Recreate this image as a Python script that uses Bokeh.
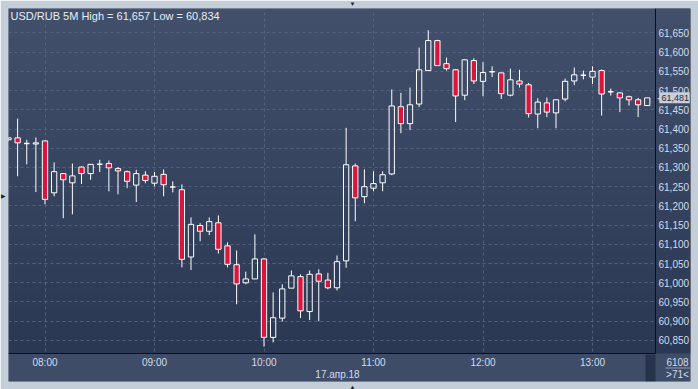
import numpy as np
import pandas as pd
from bokeh.plotting import figure
from bokeh.models import (Range1d, FixedTicker, CustomJSTickFormatter, DatetimeTickFormatter,
                          Label, ColumnDataSource, DatetimeAxis, LinearAxis, Grid)
from bokeh.embed import file_html
from bokeh.resources import INLINE

# ---------------- data ----------------
title_text = "USD/RUB 5M High = 61,657 Low = 60,834"
session_date = "2018-04-17"
first_bar = "07:40"
bar_minutes = 5

opens = [61.372, 61.377, 61.362, 61.361, 61.369, 61.234, 61.284, 61.260, 61.301, 61.284,
         61.308, 61.310, 61.297, 61.289, 61.254, 61.280, 61.259, 61.282, 61.249, 61.242,
         61.067, 61.149, 61.134, 61.156, 61.096, 61.047, 61.000, 61.010, 61.062, 60.858,
         60.908, 60.986, 61.016, 60.925, 61.023, 61.007, 60.987, 61.057, 61.304, 61.224,
         61.246, 61.260, 61.283, 61.458, 61.414, 61.465, 61.552, 61.630, 61.570, 61.554,
         61.488, 61.578, 61.524, 61.549, 61.546, 61.488, 61.525, 61.515, 61.439, 61.468,
         61.442, 61.478, 61.525, 61.540, 61.535, 61.552, 61.497, 61.494, 61.484, 61.476,
         61.461]
highs = [61.379, 61.427, 61.372, 61.378, 61.370, 61.313, 61.285, 61.310, 61.303, 61.309,
         61.320, 61.318, 61.301, 61.292, 61.294, 61.290, 61.288, 61.295, 61.264, 61.256,
         61.170, 61.155, 61.170, 61.175, 61.105, 61.084, 61.029, 61.126, 61.064, 60.975,
         60.996, 61.032, 61.022, 61.032, 61.035, 61.026, 61.071, 61.403, 61.310, 61.295,
         61.290, 61.290, 61.503, 61.494, 61.508, 61.612, 61.657, 61.632, 61.586, 61.556,
         61.581, 61.584, 61.574, 61.563, 61.547, 61.557, 61.554, 61.520, 61.480, 61.482,
         61.477, 61.531, 61.560, 61.552, 61.563, 61.555, 61.505, 61.495, 61.487, 61.481,
         61.481]
lows = [61.368, 61.277, 61.308, 61.236, 61.204, 61.225, 61.168, 61.178, 61.257, 61.268,
        61.288, 61.238, 61.230, 61.246, 61.210, 61.259, 61.251, 61.225, 61.235, 61.040,
        61.033, 61.108, 61.124, 61.076, 61.040, 60.944, 60.996, 61.010, 60.834, 60.845,
        60.899, 60.986, 60.908, 60.903, 60.900, 60.983, 60.980, 61.039, 61.160, 61.207,
        61.238, 61.238, 61.280, 61.389, 61.397, 61.457, 61.551, 61.564, 61.552, 61.418,
        61.475, 61.517, 61.485, 61.535, 61.478, 61.485, 61.508, 61.430, 61.402, 61.431,
        61.402, 61.472, 61.514, 61.529, 61.517, 61.435, 61.487, 61.444, 61.461, 61.431,
        61.461]
closes = [61.377, 61.364, 61.362, 61.364, 61.217, 61.289, 61.268, 61.278, 61.284, 61.308,
          61.308, 61.299, 61.291, 61.264, 61.284, 61.266, 61.277, 61.255, 61.249, 61.061,
          61.152, 61.134, 61.159, 61.087, 61.048, 60.997, 61.010, 61.062, 60.858, 60.909,
          60.984, 61.018, 60.927, 61.022, 61.004, 60.987, 61.055, 61.307, 61.221, 61.250,
          61.258, 61.281, 61.460, 61.414, 61.463, 61.554, 61.630, 61.565, 61.557, 61.486,
          61.580, 61.525, 61.547, 61.549, 61.492, 61.528, 61.517, 61.440, 61.470, 61.444,
          61.476, 61.524, 61.541, 61.540, 61.550, 61.491, 61.497, 61.481, 61.476, 61.463,
          61.481]

y_ticks = [60.85, 60.90, 60.95, 61.00, 61.05, 61.10, 61.15, 61.20, 61.25,
           61.30, 61.35, 61.40, 61.45, 61.50, 61.55, 61.60, 61.65]
hour_labels = ["08:00", "09:00", "10:00", "11:00", "12:00", "13:00"]
date_label = "17.апр.18"
last_price = 61.481
last_price_label = "61,481"
counter_label = "6108"
bars_label = ">71<"

# ---------------- layout / styles ----------------
FONT = "Liberation Sans"
RED = "#dc143c"
BORDER = "#c4ced9"
STRIP = "#3e4c67"
GRID = "#5b6a86"
TXT = "#d2dcee"
TRI = "#1c2435"
TAG = "#c9ced8"
AXLINE = "#0b0f18"

W, H = 698, 389
FR_L, FR_R, FR_T, FR_B = 8, 690, 8, 381      # dark window (plot frame)
CH_R, CH_B = 655, 353                        # price-chart area inside it
BAR_PX = 9.125                               # pixels per bar
PX_PER_UNIT = 384.4                          # pixels per 1 rouble
PRICE_TOP = 61.7135                          # price at the top edge

# ---------------- derived ----------------
times = pd.date_range(f"{session_date} {first_bar}", periods=len(opens), freq=f"{bar_minutes}min")
t_ms = (times.astype("int64") // 10**6).to_numpy().astype(float)
o = np.array(opens); h = np.array(highs); l = np.array(lows); c = np.array(closes)
top = np.maximum(o, c); bot = np.minimum(o, c)
doji = o == c
bear = c < o

bar_ms = bar_minutes * 60 * 1000
t0 = t_ms[0]

def px_x(px):
    return t0 + (px - FR_L) * bar_ms / BAR_PX

def px_y(py):
    return PRICE_TOP - (py - FR_T) / PX_PER_UNIT

def to_ms(s):
    return float(pd.Timestamp(f"{session_date} {s}").value // 10**6)

hour_ms = [to_ms(s) for s in hour_labels]
bar_w = bar_ms * 0.58
chart_x_end = px_x(CH_R)
chart_y_bot = px_y(CH_B)

p = figure(width=W, height=H, output_backend="svg", toolbar_location=None,
           x_range=Range1d(px_x(FR_L), px_x(FR_R)), y_range=Range1d(px_y(FR_B), px_y(FR_T)),
           x_axis_location=None, y_axis_location=None,
           min_border_left=FR_L, min_border_right=W - FR_R,
           min_border_top=FR_T, min_border_bottom=H - FR_B)
p.border_fill_color = BORDER
p.outline_line_color = None
p.background_fill_color = "#36445f"
p.grid.visible = False

def gradient(n=128):
    img = np.empty((n, 1), dtype=np.uint32)
    view = img.view(dtype=np.uint8).reshape((n, 1, 4))
    top_rgb = np.array([0x42, 0x50, 0x6b]); bot_rgb = np.array([0x2b, 0x38, 0x53])
    for i in range(n):
        f = i / (n - 1)
        view[i, 0, 0:3] = (bot_rgb + (top_rgb - bot_rgb) * f).astype(np.uint8)
        view[i, 0, 3] = 255
    return img

ytop = px_y(FR_T)
p.image_rgba(image=[gradient()], x=px_x(FR_L), y=chart_y_bot, dw=px_x(FR_R) - px_x(FR_L),
             dh=ytop - chart_y_bot, level="image")

# grids (only the chart part stays visible: panels are painted over them)
p.add_layout(Grid(dimension=0, ticker=FixedTicker(ticks=hour_ms), grid_line_color=GRID,
                  grid_line_dash="3 3", grid_line_alpha=0.8))
p.add_layout(Grid(dimension=1, ticker=FixedTicker(ticks=y_ticks), grid_line_color=GRID,
                  grid_line_dash="3 3", grid_line_alpha=0.8))

# right price-scale panel (same gradient) and bottom time strip
p.image_rgba(image=[gradient()], x=chart_x_end, y=chart_y_bot, dw=px_x(FR_R) - chart_x_end,
             dh=ytop - chart_y_bot)
p.quad(left=px_x(FR_L), right=px_x(FR_R), bottom=px_y(FR_B), top=chart_y_bot,
       fill_color=STRIP, line_color=None)
p.quad(left=px_x(645), right=chart_x_end, bottom=px_y(FR_B), top=px_y(354),
       fill_color="#27324b", line_color=None)
p.quad(left=px_x(665), right=px_x(FR_R), bottom=px_y(368), top=px_y(367),
       fill_color="#8d9cb8", line_color=None)

# candles
src = ColumnDataSource(dict(t=t_ms, h=h, l=l, top=top, bot=bot))
p.segment(x0="t", y0="h", x1="t", y1="top", source=src, line_color="white", line_width=1)
p.segment(x0="t", y0="bot", x1="t", y1="l", source=src, line_color="white", line_width=1)
body_idx = np.where(~doji)[0]
bsrc = ColumnDataSource(dict(t=t_ms[body_idx], top=top[body_idx], bot=bot[body_idx],
                             fill=[RED if bear[i] else "#000000" for i in body_idx],
                             alpha=[1.0 if bear[i] else 0.0 for i in body_idx]))
p.vbar(x="t", width=bar_w, top="top", bottom="bot", source=bsrc, fill_color="fill",
       fill_alpha="alpha", line_color="white", line_width=1)
d_idx = np.where(doji)[0]
p.segment(x0=t_ms[d_idx] - bar_w / 2, x1=t_ms[d_idx] + bar_w / 2, y0=o[d_idx], y1=o[d_idx],
          line_color="white", line_width=1.5)

# axes drawn at fixed places inside the dark window
def style(ax, size="10px"):
    ax.major_tick_in = 0; ax.major_tick_out = 0; ax.minor_tick_in = 0; ax.minor_tick_out = 0
    ax.major_label_text_color = TXT
    ax.major_label_text_font = FONT
    ax.major_label_text_font_size = size

ya = LinearAxis(fixed_location=chart_x_end, bounds=(chart_y_bot, ytop),
                ticker=FixedTicker(ticks=y_ticks),
                formatter=CustomJSTickFormatter(code="return tick.toFixed(3).replace('.', ',');"))
style(ya)
ya.axis_line_color = AXLINE
ya.major_label_standoff = 3
p.add_layout(ya, "right")

fmt = "%H:%M"
xa = DatetimeAxis(fixed_location=chart_y_bot, bounds=(px_x(FR_L), chart_x_end),
                  ticker=FixedTicker(ticks=hour_ms),
                  formatter=DatetimeTickFormatter(hours=fmt, hourmin=fmt, minutes=fmt, minsec=fmt, days=fmt))
style(xa)
xa.axis_line_color = AXLINE
xa.major_label_standoff = 3
p.add_layout(xa, "below")

xa2 = DatetimeAxis(fixed_location=px_y(368.5), bounds=(px_x(FR_L), chart_x_end),
                   ticker=FixedTicker(ticks=[px_x(337)]),
                   formatter=CustomJSTickFormatter(code="return '%s';" % date_label))
style(xa2)
xa2.axis_line_color = None
xa2.major_label_standoff = 0
p.add_layout(xa2, "below")

# texts
def lab(x, y, text, **kw):
    base = dict(x=x, y=y, x_units="canvas", y_units="canvas", text=text, text_font=FONT,
                text_font_size="10px", text_baseline="middle", text_align="center", text_color=TXT)
    base.update(kw)
    return Label(**base)

p.add_layout(lab(10, 15, title_text, text_font_size="11px", text_color="#e8edf5", text_align="left"))
p.add_layout(lab(677, 361, counter_label))
p.add_layout(lab(677, 374, bars_label))
# last-price tag on the price scale
p.add_layout(lab(FR_R - 16, last_price, "\u00a0" * 11, y_units="data", text_font_size="10px",
                 background_fill_color=TAG, background_fill_alpha=1))
p.add_layout(lab(659.5, last_price, "\u25c0", y_units="data", text_color=TAG, text_font_size="9px"))
p.add_layout(lab(661, last_price, last_price_label, y_units="data", text_color="#1e2a44",
                 text_align="left", text_font_size="9px"))

# little scroll arrows in the outer border
p.add_layout(lab(352, 3, "\u25bc", text_color=TRI, text_font_size="6px"), "above")
p.add_layout(lab(352, 386, "\u25b2", text_color=TRI, text_font_size="6px"), "below")
p.add_layout(lab(3, 195, "\u25b6", text_color=TRI, text_font_size="6px"), "left")

open("out.html", "w").write(file_html(p, INLINE))
